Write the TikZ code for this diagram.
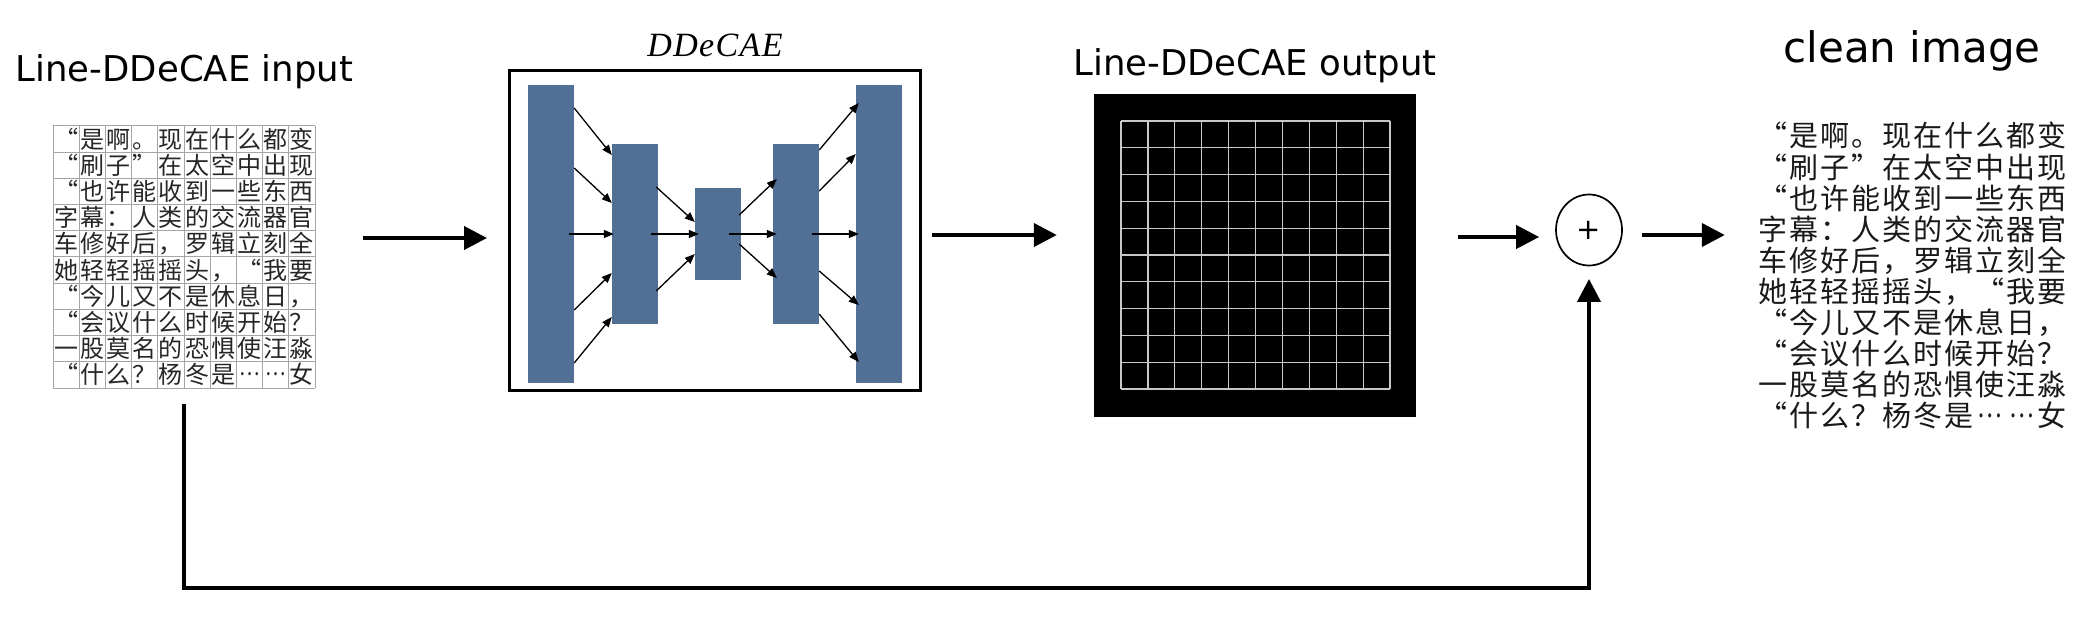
\documentclass[tikz,border=0pt]{standalone}
\usepackage{fontspec}
\usepackage{graphicx}
\newfontfamily\dejavu{DejaVu Sans}
\newfontfamily\serifit[LetterSpace=4]{Liberation Serif Italic}
\newfontfamily\cjk[RawFeature=+fwid]{Noto Sans CJK SC}
\usetikzlibrary{arrows.meta,shapes.geometric,calc}
\definecolor{blockblue}{RGB}{82,111,150}
\definecolor{gridgray}{RGB}{165,165,165}
\definecolor{outgrid}{RGB}{200,200,200}
\newcommand\midell{\raisebox{.33em}{\resizebox{0.85em}{\height}{…}}}
\newcommand\textrows{{“,是,啊,。,现,在,什,么,都,变},{“,刷,子,”,在,太,空,中,出,现},{“,也,许,能,收,到,一,些,东,西},{字,幕,：,人,类,的,交,流,器,官},{车,修,好,后,，,罗,辑,立,刻,全},{她,轻,轻,摇,摇,头,，,“,我,要},{“,今,儿,又,不,是,休,息,日,，},{“,会,议,什,么,时,候,开,始,？},{一,股,莫,名,的,恐,惧,使,汪,淼},{“,什,么,？,杨,冬,是,\midell,\midell,女}}
\begin{document}
\begin{tikzpicture}[x=1pt,y=-1pt,
  ttl/.style={anchor=base,inner sep=0,font=\dejavu\fontsize{35.5}{40}\selectfont},
  block/.style={fill=blockblue,inner sep=0,minimum width=46},
  sarr/.style={line width=1.3,-{Triangle[length=10pt,width=8pt]}},
  bigarr/.style={line width=4,-{Triangle[length=23pt,width=23pt]}},
  cjkcell/.style={inner sep=0,anchor=center},
]
\path[use as bounding box] (0,0) rectangle (2084,636);

% ---------- input image ----------
\node[ttl] (tin) at (184.5,82) {Line-DDeCAE input};
\node[inner sep=0,minimum width=262,minimum height=262] (ingrid) at (184,257) {};
\foreach \i in {0,...,10} {
  \draw[gridgray,line width=1] (53+\i*26.2,126) -- (53+\i*26.2,388);
  \draw[gridgray,line width=1] (53,126+\i*26.2) -- (315,126+\i*26.2);
}
\foreach \r [count=\j from 0] in \textrows {
  \foreach \ch [count=\k from 0] in \r {
    \node[cjkcell,font=\cjk\fontsize{24}{24}\selectfont,text height=21,text depth=3,text=black!85]
      (in-\j-\k) at (66.1+\k*26.2,139.1+\j*26.2) {\ch};
  }
}

% ---------- DDeCAE ----------
\node[anchor=base,inner sep=0,font=\serifit\fontsize{34}{38}\selectfont] (tdd) at (715,57) {DDeCAE};
\node[draw,line width=3,inner sep=0,minimum width=411,minimum height=320] (ddbox) at (715,230.5) {};
\node[block,minimum height=298] (b1) at (551,234) {};
\node[block,minimum height=179] (b2) at (635,234) {};
\node[block,minimum height=91]  (b3) at (718,234) {};
\node[block,minimum height=179] (b4) at (796,234) {};
\node[block,minimum height=298] (b5) at (879,234) {};

\draw[sarr] ([yshift=126]b1.east) -- ([yshift=79]b2.west);
\draw[sarr] ([yshift=66]b1.east) -- ([yshift=31]b2.west);
\draw[sarr] ([xshift=-5]b1.east) -- ([xshift=2]b2.west);
\draw[sarr] ([yshift=-76]b1.east) -- ([yshift=-39]b2.west);
\draw[sarr] ([yshift=-129]b1.east) -- ([yshift=-83]b2.west);
\draw[sarr] ([xshift=-2,yshift=47]b2.east) -- ([yshift=12]b3.west);
\draw[sarr] ([xshift=-7]b2.east) -- ([xshift=4]b3.west);
\draw[sarr] ([xshift=-2,yshift=-57]b2.east) -- ([yshift=-20]b3.west);
\draw[sarr] ([xshift=-2,yshift=19]b3.east) -- ([xshift=4,yshift=55]b4.west);
\draw[sarr] ([xshift=-12]b3.east) -- ([xshift=4]b4.west);
\draw[sarr] ([xshift=-2,yshift=-10]b3.east) -- ([xshift=4,yshift=-44]b4.west);
\draw[sarr] ([yshift=84]b4.east) -- ([xshift=3,yshift=131]b5.west);
\draw[sarr] ([yshift=43]b4.east) -- ([yshift=80]b5.west);
\draw[sarr] ([xshift=-7]b4.east) -- ([xshift=3]b5.west);
\draw[sarr] ([yshift=-37]b4.east) -- ([xshift=3,yshift=-71]b5.west);
\draw[sarr] ([yshift=-80]b4.east) -- ([xshift=3,yshift=-128]b5.west);

% ---------- output ----------
\node[ttl] (tout) at (1255,76) {Line-DDeCAE output};
\node[fill=black,inner sep=0,minimum width=322,minimum height=323] (outsq) at (1255,255.5) {};
\foreach \i in {0,...,10} {
  \draw[outgrid,line width=1.2] (1121+\i*26.9,121) -- (1121+\i*26.9,389);
  \draw[outgrid,line width=1.2] (1121,121+\i*26.8) -- (1390,121+\i*26.8);
}

% ---------- sum ----------
\node[ellipse,draw,line width=1.7,inner sep=0,minimum width=66,minimum height=71,
      font=\dejavu\fontsize{29}{29}\selectfont] (sum) at (1589,230) {+};

% ---------- clean image ----------
\node[ttl,font=\dejavu\fontsize{42}{46}\selectfont] (tclean) at (1912,63) {clean image};
\node[inner sep=0,minimum width=311,minimum height=311] (clean) at (1912.5,276) {};
\foreach \r [count=\j from 0] in \textrows {
  \foreach \ch [count=\k from 0] in \r {
    \node[cjkcell,font=\cjk\fontsize{29}{29}\selectfont,text height=25.5,text depth=3.5,text=black!90]
      (cl-\j-\k) at (1772.5+\k*31.1,136+\j*31.1) {\ch};
  }
}

% ---------- connectors ----------
\draw[bigarr] ([xshift=48,yshift=19]ingrid.east) -- ([xshift=-21,yshift=-7.5]ddbox.west);
\draw[bigarr] ([xshift=10,yshift=-4.5]ddbox.east) -- ([xshift=-37,yshift=20.5]outsq.west);
\draw[bigarr] ([xshift=42,yshift=18.5]outsq.east) -- ([xshift=-16,yshift=-7]sum.west);
\draw[bigarr] ([xshift=19,yshift=-5]sum.east) -- ([xshift=-32,yshift=41]clean.west);
\draw[bigarr] ([yshift=-16]ingrid.south) -- ++(0,184) -| ([yshift=-12.6]sum.south);
\end{tikzpicture}
\end{document}
